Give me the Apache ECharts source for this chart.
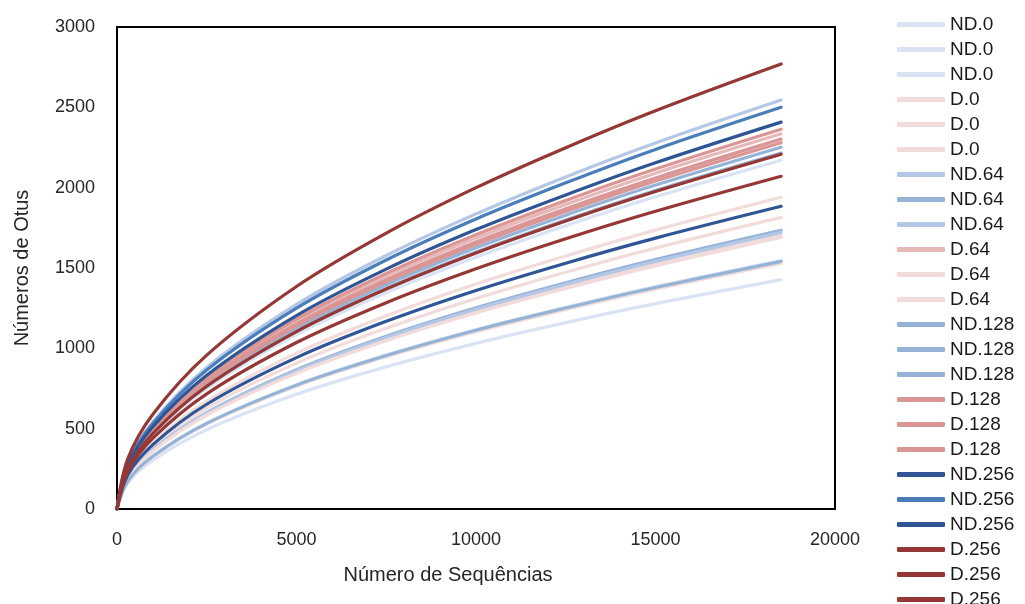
<!DOCTYPE html>
<html>
<head>
<meta charset="utf-8">
<title>Rarefação</title>
<script src="https://cdn.jsdelivr.net/npm/echarts@6/dist/echarts.min.js"></script>
<style>
  html, body, #main { margin: 0; width: 1025px; height: 604px; background: #fff; }
</style>
</head>
<body>
<div id="main"></div>
<script>
// sequencing depth (x) where the curves were read
var seqCounts = [0, 300, 1000, 2500, 5000, 7500, 10000, 12500, 15000, 18500];

// OTU counts, one array per sample
var nd0_a = [0, 244, 462, 751, 1086, 1346, 1567, 1763, 1943, 2171];
var nd0_b = [0, 174, 330, 535, 774, 959, 1117, 1256, 1385, 1547];
var nd0_c = [0, 161, 304, 494, 714, 885, 1031, 1160, 1278, 1428];
var d0_a = [0, 172, 325, 529, 764, 947, 1103, 1241, 1368, 1528];
var d0_b = [0, 192, 363, 590, 853, 1057, 1231, 1384, 1526, 1705];
var d0_c = [0, 204, 387, 628, 908, 1125, 1310, 1474, 1624, 1815];
var nd64_a = [0, 286, 542, 881, 1273, 1578, 1837, 2067, 2278, 2545];
var nd64_b = [0, 195, 369, 600, 867, 1075, 1252, 1408, 1552, 1734];
var nd64_c = [0, 194, 367, 596, 861, 1068, 1243, 1398, 1541, 1722];
var d64_a = [0, 263, 497, 808, 1168, 1448, 1686, 1896, 2090, 2335];
var d64_b = [0, 218, 413, 671, 970, 1203, 1401, 1575, 1736, 1940];
var d64_c = [0, 190, 360, 585, 845, 1048, 1220, 1372, 1513, 1690];
var nd128_a = [0, 253, 480, 779, 1126, 1396, 1626, 1829, 2016, 2252];
var nd128_b = [0, 173, 328, 533, 771, 955, 1113, 1251, 1379, 1541];
var nd128_c = [0, 249, 472, 766, 1108, 1373, 1599, 1799, 1982, 2215];
var d128_a = [0, 266, 504, 818, 1182, 1466, 1707, 1920, 2116, 2364];
var d128_b = [0, 259, 490, 797, 1151, 1427, 1662, 1869, 2060, 2302];
var d128_c = [0, 257, 486, 789, 1140, 1414, 1646, 1851, 2041, 2280];
var nd256_a = [0, 212, 401, 652, 942, 1168, 1360, 1530, 1686, 1884];
var nd256_b = [0, 281, 533, 865, 1250, 1550, 1805, 2030, 2238, 2500];
var nd256_c = [0, 271, 513, 833, 1204, 1493, 1739, 1955, 2155, 2408];
var d256_a = [0, 312, 590, 958, 1385, 1717, 2000, 2249, 2479, 2770];
var d256_b = [0, 248, 470, 764, 1104, 1369, 1594, 1793, 1976, 2208];
var d256_c = [0, 233, 441, 717, 1036, 1284, 1495, 1682, 1853, 2071];

var sampleNames = ['ND.0', 'ND.0', 'ND.0', 'D.0', 'D.0', 'D.0',
  'ND.64', 'ND.64', 'ND.64', 'D.64', 'D.64', 'D.64',
  'ND.128', 'ND.128', 'ND.128', 'D.128', 'D.128', 'D.128',
  'ND.256', 'ND.256', 'ND.256', 'D.256', 'D.256', 'D.256'];
var sampleData = [nd0_a, nd0_b, nd0_c, d0_a, d0_b, d0_c,
  nd64_a, nd64_b, nd64_c, d64_a, d64_b, d64_c,
  nd128_a, nd128_b, nd128_c, d128_a, d128_b, d128_c,
  nd256_a, nd256_b, nd256_c, d256_a, d256_b, d256_c];
var sampleColors = ['#dae3f3', '#dae3f3', '#dae3f3', '#f2dcdb', '#f2dcdb', '#f2dcdb',
  '#b4c7e7', '#95b3d7', '#b4c7e7', '#e6b9b8', '#f2dcdb', '#f2dcdb',
  '#95b3d7', '#95b3d7', '#95b3d7', '#d99694', '#d99694', '#d99694',
  '#2f5597', '#4a7ebb', '#2f5597', '#953735', '#953735', '#953735'];

var axisFont = 'Liberation Sans, Arial, sans-serif';

// names must be unique for the legend, the suffix is hidden again
var series = sampleData.map(function (ys, i) {
  return {
    name: sampleNames[i] + '#' + i,
    type: 'line',
    smooth: 0.35,
    symbol: 'none',
    lineStyle: { width: 3.2, color: sampleColors[i], cap: 'round' },
    itemStyle: { color: sampleColors[i] },
    data: ys.map(function (y, k) { return [seqCounts[k], y]; })
  };
});

var chart = echarts.init(document.getElementById('main'), null, { renderer: 'canvas' });
chart.setOption({
  animation: false,
  backgroundColor: '#fff',
  grid: {
    left: 117, right: 190, top: 27, bottom: 95,
    show: true, borderColor: '#000', borderWidth: 2
  },
  legend: {
    type: 'plain',
    orient: 'vertical',
    left: 892,
    top: 10,
    height: 640,
    icon: 'roundRect',
    itemWidth: 48,
    itemHeight: 5,
    itemGap: 6,
    textStyle: { fontFamily: axisFont, fontSize: 19, color: '#1a1a1a' },
    formatter: function (name) { return name.split('#')[0]; },
    data: series.map(function (s) { return s.name; })
  },
  xAxis: {
    type: 'value',
    min: 0, max: 20000, interval: 5000,
    name: 'Número de Sequências',
    nameLocation: 'middle',
    nameGap: 56,
    nameTextStyle: { fontFamily: axisFont, fontSize: 20, color: '#262626', padding: [0, 56, 0, 0] },
    axisLine: { show: true, lineStyle: { color: '#000', width: 2 } },
    axisTick: { show: false },
    splitLine: { show: false },
    axisLabel: { margin: 22, fontFamily: axisFont, fontSize: 18, color: '#262626', formatter: function (v) { return String(v); } }
  },
  yAxis: {
    type: 'value',
    min: 0, max: 3000, interval: 500,
    name: 'Números de Otus',
    nameLocation: 'middle',
    nameGap: 85,
    nameTextStyle: { fontFamily: axisFont, fontSize: 20, color: '#262626' },
    axisLine: { show: true, lineStyle: { color: '#000', width: 2 } },
    axisTick: { show: false },
    splitLine: { show: false },
    axisLabel: { margin: 22, fontFamily: axisFont, fontSize: 18, color: '#262626', formatter: function (v) { return String(v); } }
  },
  series: series
});
</script>
</body>
</html>
